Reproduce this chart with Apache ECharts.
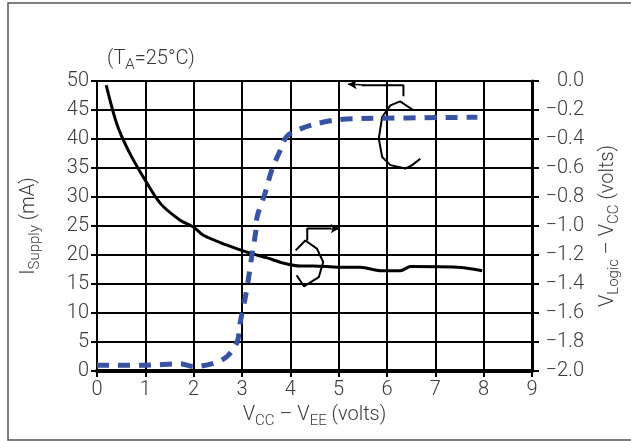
<!DOCTYPE html>
<html>
<head>
<meta charset="utf-8">
<script src="https://cdn.jsdelivr.net/npm/echarts@6/dist/echarts.min.js"></script>
<style>
  html, body { margin: 0; padding: 0; background: #fff; }
  #chart { width: 631px; height: 441px; }
</style>
</head>
<body>
<div id="chart"></div>
<script>
// supply current curve (left axis, mA)
const supplyX = [0.19, 0.41, 0.65, 0.96, 1.31, 1.72, 2.0, 2.2, 2.69, 3.1, 3.52, 3.86, 4.21, 4.48, 5.0, 5.45, 5.87, 6.28, 6.49, 7.45, 7.97];
const supplyY = [49.3, 42.6, 38, 33.4, 28.9, 26, 24.8, 23.4, 21.7, 20.5, 19.5, 18.6, 18.1, 18.1, 17.9, 17.9, 17.3, 17.3, 18.0, 17.9, 17.3];

// VLogic - VCC curve (right axis, volts)
const logicX = [0, 1.0, 1.72, 2.0, 2.41, 2.69, 2.9, 2.96, 3.07, 3.14, 3.21, 3.28, 3.31, 3.48, 3.62, 3.79, 3.93, 4.21, 4.48, 4.9, 5.31, 7.87];
const logicY = [-1.96, -1.96, -1.95, -1.97, -1.947, -1.90, -1.80, -1.67, -1.49, -1.35, -1.19, -1.05, -0.94, -0.77, -0.61, -0.48, -0.38, -0.33, -0.30, -0.27, -0.26, -0.25];

// hand drawn pointers (in left-axis units)
const arrowTop = [[6.34, 47.36], [6.34, 49.26], [5.47, 49.26]];
const arrowTopHead = [[5.47, 49.35], [5.19, 49.45]];
const curlTop = [[6.55, 44.95], [6.27, 46.5], [6.07, 45.8], [5.9, 43.8], [5.83, 40.07], [5.9, 36.9], [6.07, 35.5], [6.38, 34.9], [6.52, 35.5], [6.69, 36.6]];
const arrowBot = [[4.35, 22.5], [4.35, 24.55], [4.85, 24.55]];
const arrowBotHead = [[4.85, 24.55], [5.02, 24.6]];
const curlBot = [[4.11, 20.8], [4.31, 22.5], [4.55, 21.1], [4.68, 18.8], [4.59, 16.2], [4.28, 14.6], [4.13, 16.5]];

const xTicks = [0, 1, 2, 3, 4, 5, 6, 7, 8, 9];

const font = 'Roboto, "Noto Sans", sans-serif';
const txt = '#3a3a3a';

function zip(xs, ys) {
  return xs.map((x, i) => [x, ys[i]]);
}

function pointer(data) {
  return {
    type: 'line', data: data, showSymbol: false, silent: true,
    lineStyle: { color: '#000', width: 2 }, z: 5
  };
}

function head(seg) {
  return {
    type: 'line', data: [], silent: true,
    markLine: {
      silent: true, symbol: ['none', 'arrow'], symbolSize: [7, 9],
      label: { show: false },
      lineStyle: { color: '#000', width: 1.5, type: 'solid' },
      data: [[{ coord: seg[0] }, { coord: seg[1] }]]
    }
  };
}

const nameRich = {
  n: { fontFamily: font, fontSize: 20, fontWeight: 300, color: txt },
  s: { fontFamily: font, fontSize: 15, fontWeight: 300, color: txt, padding: [13, 0, 0, 0] }
};

const chart = echarts.init(document.getElementById('chart'));
chart.setOption({
  animation: false,
  textStyle: { fontFamily: font },
  title: {
    text: '{n|(T}{s|A}{n|=25°C)}',
    left: 102, top: 40,
    textStyle: { rich: nameRich }
  },
  graphic: [{
    type: 'rect', silent: true,
    shape: { x: 8, y: 3, width: 640, height: 437 },
    style: { fill: 'none', stroke: '#555', lineWidth: 1.5 }
  }],
  grid: { left: 97, right: 99, top: 81, bottom: 70 },
  xAxis: {
    type: 'value', min: 0, max: 9, interval: 1,
    name: '{n|V}{s|CC}{n| – V}{s|EE}{n| (volts)}',
    nameLocation: 'middle', nameGap: 30,
    nameTextStyle: { rich: nameRich },
    axisLine: { lineStyle: { color: '#000', width: 4 } },
    axisTick: { show: true, length: 6, lineStyle: { color: '#000', width: 2 } },
    axisLabel: { fontSize: 20, fontWeight: 300, color: txt, margin: 9, formatter: v => xTicks.includes(v) ? String(v) : '' },
    splitLine: { show: true, lineStyle: { color: '#000', width: 2 } }
  },
  yAxis: [{
    type: 'value', min: 0, max: 50, interval: 5, position: 'left',
    name: '{n|I}{s|Supply}{n| (mA)}',
    nameLocation: 'middle', nameGap: 54, nameRotate: 90,
    nameTextStyle: { rich: nameRich },
    axisLine: { show: true, lineStyle: { color: '#000', width: 2 } },
    axisTick: { show: true, length: 6, lineStyle: { color: '#000', width: 2 } },
    axisLabel: { fontSize: 20, fontWeight: 300, color: txt, margin: 8 },
    splitLine: { show: true, lineStyle: { color: '#000', width: 2 } }
  }, {
    type: 'value', min: -2, max: 0, interval: 0.2, position: 'right',
    name: '{n|V}{s|Logic}{n| – V}{s|CC}{n| (volts)}',
    nameLocation: 'middle', nameGap: 62, nameRotate: 90,
    nameTextStyle: { rich: nameRich },
    axisLine: { show: true, lineStyle: { color: '#000', width: 3 } },
    axisTick: { show: true, length: 7, lineStyle: { color: '#000', width: 2 } },
    axisLabel: {
      fontSize: 20, fontWeight: 300, color: txt, margin: 52, align: 'right',
      formatter: v => (v < 0 ? '\u2212' : '') + Math.abs(v).toFixed(1)
    },
    splitLine: { show: false }
  }],
  series: [
    {
      type: 'line', name: 'ISupply', data: zip(supplyX, supplyY),
      showSymbol: false, smooth: 0.3, z: 4,
      lineStyle: { color: '#000', width: 3 }
    },
    {
      type: 'line', name: 'VLogic', yAxisIndex: 1, data: zip(logicX, logicY),
      showSymbol: false, smooth: 0.3, z: 6,
      lineStyle: { color: '#3953a4', width: 5, type: [12, 9] }
    },
    pointer(arrowTop),
    pointer(curlTop),
    pointer(arrowBot),
    pointer(curlBot),
    head(arrowTopHead),
    head(arrowBotHead)
  ]
});
</script>
</body>
</html>
